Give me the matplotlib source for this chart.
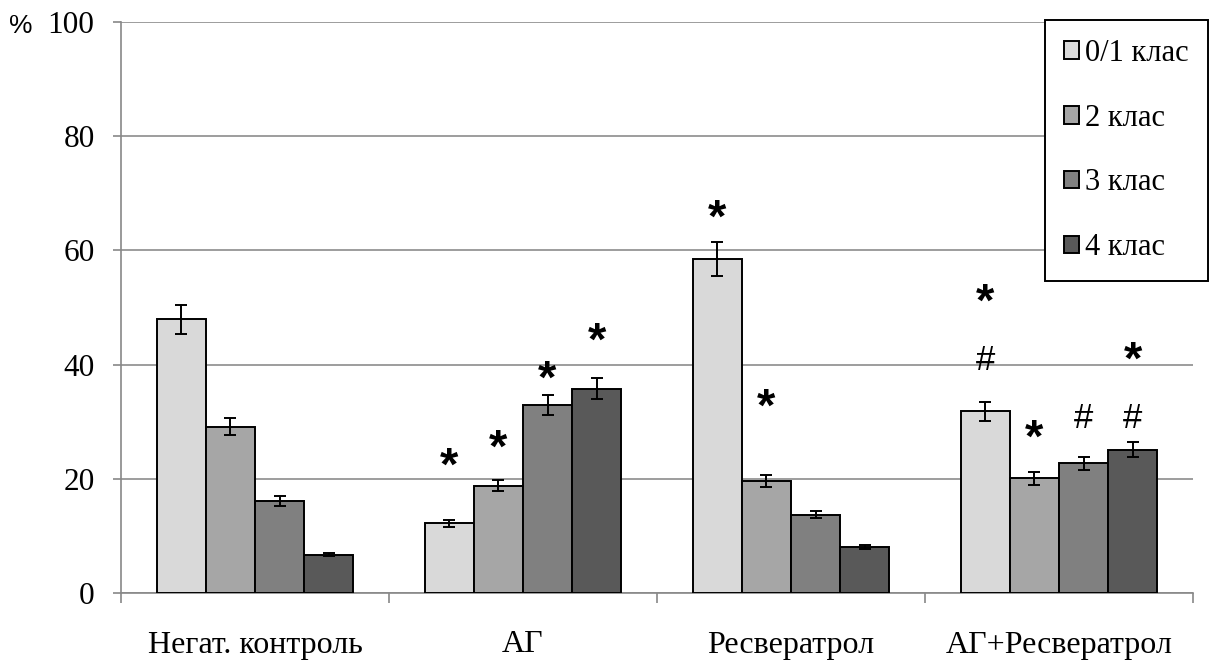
import matplotlib
matplotlib.use("Agg")
import matplotlib.pyplot as plt
import matplotlib.transforms as mtransforms
import numpy as np

categories = ["Негат. контроль", "АГ", "Ресвератрол", "АГ+Ресвератрол"]
series_names = ["0/1 клас", "2 клас", "3 клас", "4 клас"]
values = [
    [47.9, 12.2, 58.5, 31.8],   # 0/1 клас
    [29.1, 18.8, 19.6, 20.1],   # 2 клас
    [16.1, 32.9, 13.7, 22.7],   # 3 клас
    [6.7, 35.8, 8.1, 25.1],     # 4 клас
]
errors = [
    [2.5, 0.6, 3.0, 1.6],
    [1.5, 1.0, 1.0, 1.1],
    [0.9, 1.7, 0.6, 1.2],
    [0.3, 1.9, 0.35, 1.3],
]
colors = ["#D9D9D9", "#A6A6A6", "#808080", "#595959"]
# annotations: (category index, series index, symbol, y value)
annotations = [
    (1, 0, "*", 23.1), (1, 1, "*", 26.2), (1, 2, "*", 38.3), (1, 3, "*", 44.9),
    (2, 0, "*", 66.4), (2, 1, "*", 33.3),
    (3, 0, "*", 51.7), (3, 0, "#", 40.7), (3, 1, "*", 28.0),
    (3, 2, "#", 30.6), (3, 3, "#", 30.6), (3, 3, "*", 41.6),
]
yticks = [0, 20, 40, 60, 80, 100]

fig = plt.figure(figsize=(12.19, 6.6), dpi=100)
ax = fig.add_axes([121/1219, 1-593/660, (1193-121)/1219, (593-22)/660])

serif = ["Liberation Serif", "DejaVu Serif"]
sans = ["Liberation Sans", "DejaVu Sans"]
w = 0.183
x = np.arange(len(categories))
for j, (name, vals, errs, c) in enumerate(zip(series_names, values, errors, colors)):
    ax.bar(x + (j - 1.5) * w, vals, width=w, color=c, edgecolor="black",
           linewidth=1.4, label=name, zorder=3,
           yerr=errs, error_kw=dict(ecolor="black", elinewidth=1.4, capsize=4.5, capthick=1.4, zorder=4))

star_tr = mtransforms.offset_copy(ax.transData, fig=fig, x=0, y=-4.5, units="points")
for ci, sj, sym, yv in annotations:
    xp = ci + (sj - 1.5) * w
    if sym == "*":
        ax.text(xp, yv, sym, ha="center", va="center", fontsize=34, fontweight="bold",
                family=sans, zorder=5, transform=star_tr)
    else:
        ax.text(xp, yv, sym, ha="center", va="center", fontsize=25,
                family=sans, zorder=5)

ax.set_xlim(-0.5, 3.5)
ax.set_ylim(0, 100)
ax.set_yticks(yticks)
ax.set_yticklabels([str(t) for t in yticks], fontsize=22.5, family=serif)
ax.set_xticks(np.arange(-0.5, 4.0, 1.0))
ax.set_xticklabels([])
ax.set_xticks(x, minor=True)
ax.set_xticklabels(categories, minor=True, fontsize=23, family=serif)
ax.tick_params(axis="x", which="minor", length=0, pad=27)
ax.tick_params(axis="x", which="major", length=7, width=1.2, color="#888888", direction="out")
ax.tick_params(axis="y", length=6, width=1.2, color="#888888", direction="out", pad=13)

ax.yaxis.grid(True, color="#8c8c8c", linewidth=1.2, zorder=0)
ax.set_axisbelow(True)
for s in ["top", "right"]:
    ax.spines[s].set_visible(False)
for s in ["left", "bottom"]:
    ax.spines[s].set_color("#888888")
    ax.spines[s].set_linewidth(1.2)

fig.text(21/1219, 1-26/660, "%", fontsize=19, family=sans, ha="center", va="center")

leg = ax.legend(loc="upper right", bbox_to_anchor=(1208/1219, 1-20/660),
                bbox_transform=fig.transFigure, frameon=True, fancybox=False,
                edgecolor="black", framealpha=1, borderpad=0.62, labelspacing=1.17,
                handlelength=0.5, handleheight=0.5, handletextpad=0.2,
                prop={"family": serif, "size": 22}, borderaxespad=0)
leg.get_frame().set_linewidth(1.4)
for p in leg.get_patches():
    p.set_linewidth(1.4)

fig.savefig("out.png", dpi=100)
